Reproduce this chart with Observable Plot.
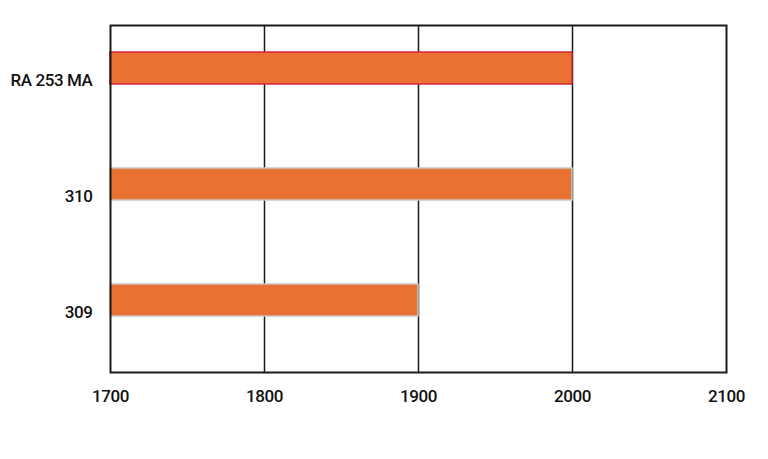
<!DOCTYPE html>
<html>
<head>
<meta charset="utf-8">
<script src="https://cdn.jsdelivr.net/npm/d3@7"></script>
<script src="https://cdn.jsdelivr.net/npm/@observablehq/plot@0.6"></script>
<style>
  html, body { margin: 0; padding: 0; background: #fff; }
  svg { display: block; }
</style>
</head>
<body>
<div id="chart"></div>
<script>
const categories = ["RA 253 MA", "310", "309"];
const values = [2000, 2000, 1900];
const strokes = ["#d0283c", "#c8c8c8", "#c8c8c8"];
const xTicks = [1700, 1800, 1900, 2000, 2100];
const gridValues = [1800, 1900, 2000];

const data = categories.map((c, i) => ({ name: c, value: values[i], stroke: strokes[i] }));

const chart = Plot.plot({
  width: 768,
  height: 459,
  marginLeft: 110,
  marginRight: 42,
  marginTop: 25,
  marginBottom: 87,
  style: { fontFamily: "Roboto, sans-serif", fontSize: "17px", fontWeight: 500, letterSpacing: "-0.4px", color: "#111", background: "#fff" },
  x: { domain: [1700, 2100], label: null },
  y: { domain: categories, paddingInner: 0.72, paddingOuter: 0.355, align: 0.327, label: null },
  marks: [
    Plot.ruleX(gridValues, { stroke: "#1a1a1a", strokeWidth: 1.5 }),
    Plot.barX(data, { y: "name", x1: 1700, x2: "value", fill: "#e97132", stroke: "stroke", strokeWidth: 1.5 }),
    Plot.frame({ stroke: "#1a1a1a", strokeWidth: 2 }),
    Plot.axisX({ ticks: xTicks, tickFormat: d => String(d), tickSize: 0, tickPadding: 17, label: null }),
    Plot.axisY({ tickSize: 0, tickPadding: 18, dy: 12, label: null })
  ]
});
document.getElementById("chart").appendChild(chart);
</script>
</body>
</html>
